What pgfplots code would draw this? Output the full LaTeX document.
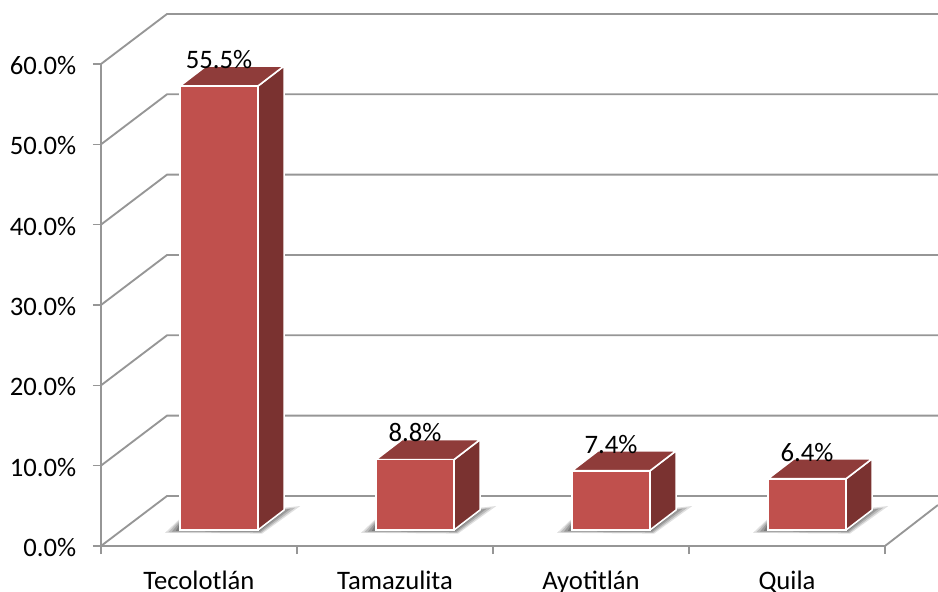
\documentclass[border=0pt]{standalone}
\usepackage{pgfplots}
\pgfplotsset{compat=1.18}
\usepackage{fontspec}
\setmainfont{Carlito}

\definecolor{wallgray}{HTML}{969696}
\definecolor{barfront}{HTML}{C0504D}
\definecolor{barside}{HTML}{7A3230}
\definecolor{bartop}{HTML}{8F3C3A}

% soft shadow on the floor, i = bar position
\newcommand{\floorshadow}[1]{
  \fill[black,opacity=.12] (axis cs:#1-.275,-.35) -- (axis cs:#1-.20,1.4) -- (axis cs:#1+.415,3.0) -- (axis cs:#1+.22,-.45) -- cycle;
  \fill[black,opacity=.16] (axis cs:#1-.26,-.28) -- (axis cs:#1-.20,1.2) -- (axis cs:#1+.39,2.8) -- (axis cs:#1+.215,-.35) -- cycle;
  \fill[black,opacity=.18] (axis cs:#1-.24,-.2) -- (axis cs:#1-.20,1.0) -- (axis cs:#1+.365,2.65) -- (axis cs:#1+.21,-.25) -- cycle;
  \fill[black,opacity=.20] (axis cs:#1-.22,-.1) -- (axis cs:#1-.20,.8) -- (axis cs:#1+.34,2.5) -- (axis cs:#1+.205,-.15) -- cycle;
}

\begin{document}
\begin{tikzpicture}
\path[use as bounding box] (0,0) rectangle (703.5pt,444pt);

% walls and floor
\begin{axis}[
  at={(75.75pt,34.5pt)}, anchor=south west,
  scale only axis, width=588pt, height=361.5pt,
  xmin=-0.5, xmax=3.5, ymin=0, ymax=60,
  clip=false,
  axis x line*=bottom, axis y line*=left,
  axis line style={wallgray,line width=1.4pt,-},
  xtick={0,1,2,3},
  xticklabels={Tecolotlán,Tamazulita,Ayotitlán,Quila},
  minor xtick={-0.5,0.5,1.5,2.5,3.5},
  ytick={0,10,20,30,40,50,60},
  yticklabel={\pgfmathprintnumber[fixed,fixed zerofill,precision=1,assume math mode=true]{\tick}\%},
  tick align=outside,
  major tick length=6pt, minor tick length=6pt,
  x tick style={draw=none},
  minor x tick style={draw=wallgray,line width=1.2pt},
  y tick style={draw=wallgray,line width=1.2pt},
  tick label style={font=\fontsize{20}{22}\selectfont,text=black},
  xticklabel style={inner sep=0pt,yshift=-12.3pt},
  yticklabel style={xshift=-9pt,yshift=-1.2pt},
]
\pgfplotsinvokeforeach{0,10,...,60}{
  \draw[wallgray,line width=1.4pt] (axis cs:-0.5,#1) -- (axis cs:-0.163,#1+6.23) -- (axis cs:3.77,#1+6.23);
}
\draw[wallgray,line width=1.4pt] (axis cs:3.5,0) -- (axis cs:3.77,5.1);
\end{axis}

% bars, sitting in front of the back wall
\begin{axis}[
  at={(90.75pt,46.5pt)}, anchor=south west,
  scale only axis, width=588pt, height=360pt,
  xmin=-0.5, xmax=3.5, ymin=0, ymax=60,
  clip=false, hide axis,
]
\floorshadow{0}
\floorshadow{1}
\floorshadow{2}
\floorshadow{3}

\addplot[fill=barside,draw=white,line width=1.2pt] coordinates {(0.199,0) (0.332,2.5) (0.332,58.0) (0.199,55.5) (0.199,0)};
\addplot[fill=bartop,draw=white,line width=1.2pt] coordinates {(-0.199,55.5) (-0.066,58.0) (0.332,58.0) (0.199,55.5) (-0.199,55.5)};
\addplot[fill=barside,draw=white,line width=1.2pt] coordinates {(1.199,0) (1.332,2.5) (1.332,11.3) (1.199,8.8) (1.199,0)};
\addplot[fill=bartop,draw=white,line width=1.2pt] coordinates {(0.801,8.8) (0.934,11.3) (1.332,11.3) (1.199,8.8) (0.801,8.8)};
\addplot[fill=barside,draw=white,line width=1.2pt] coordinates {(2.199,0) (2.332,2.5) (2.332,9.9) (2.199,7.4) (2.199,0)};
\addplot[fill=bartop,draw=white,line width=1.2pt] coordinates {(1.801,7.4) (1.934,9.9) (2.332,9.9) (2.199,7.4) (1.801,7.4)};
\addplot[fill=barside,draw=white,line width=1.2pt] coordinates {(3.199,0) (3.332,2.5) (3.332,8.9) (3.199,6.4) (3.199,0)};
\addplot[fill=bartop,draw=white,line width=1.2pt] coordinates {(2.801,6.4) (2.934,8.9) (3.332,8.9) (3.199,6.4) (2.801,6.4)};

\addplot[
  ybar, bar width=58.5pt, bar shift=0pt,
  fill=barfront, draw=white, line width=1.2pt,
  nodes near coords={\pgfmathprintnumber[fixed,fixed zerofill,precision=1,assume math mode=true]{\pgfplotspointmeta}\%},
  every node near coord/.append style={anchor=center,yshift=20pt,text=black,font=\fontsize{20}{22}\selectfont},
] coordinates {(0,55.5) (1,8.8) (2,7.4) (3,6.4)};
\end{axis}
\end{tikzpicture}
\end{document}
